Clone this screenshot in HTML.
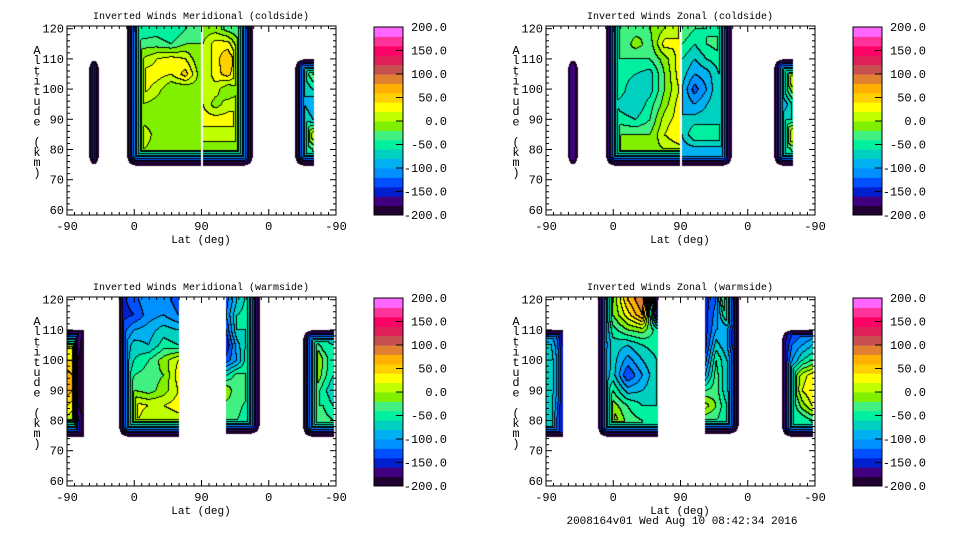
<!DOCTYPE html>
<html><head><meta charset="utf-8"><style>
html,body{margin:0;padding:0;background:#fff;width:960px;height:540px;overflow:hidden}
#wrap{position:relative;width:960px;height:540px}
canvas,svg{position:absolute;left:0;top:0}
text{font-family:"Liberation Mono",monospace;font-size:10px;fill:#000}
text.big{font-size:12px}
text.mid{font-size:11px}
</style></head><body>
<div id="wrap">
<canvas id="cv" width="960" height="540"></canvas>
<svg id="sv" width="960" height="540"></svg>
</div>
<script>
// ---- data: contour level bands ----
const levelColors=["#200030","#400080","#0020d0","#0050ff","#0090ff","#00b0f0","#00d0c0","#00f0a0","#40f080","#80f000","#c0ff00","#ffff00","#ffd000","#ffb000","#e08030","#c85050","#e0205a","#ff0066","#ff3399","#ff66ff"];
const cbTicks=[200,150,100,50,0,-50,-100,-150,-200];
const altTicks=[120,110,100,90,80,70,60];
const latTickLabels=["-90","0","90","0","-90"];
const titles=["Inverted Winds Meridional (coldside)","Inverted Winds Zonal (coldside)","Inverted Winds Meridional (warmside)","Inverted Winds Zonal (warmside)"];

// panel 0: meridional coldside
const p0StripL=[[-180,-150,-180],[-180,-150,-180],[-180,-150,-180]];
const p0MainL=[[-60,-60,-50,-60,-40,-30],[-50,-30,-30,-40,-20,-20],[-40,0,20,30,20,-20],[-30,30,30,20,50,-10],[-30,30,10,-20,-20,-10],[-30,0,-10,-20,-20,-10],[-30,-10,-10,-20,-20,-10],[-30,20,-10,-10,-20,-10],[-30,0,-10,-10,-10,-10]];
const p0MainR=[[-10,-10,-30,-40,-60],[0,30,30,-20,-60],[0,30,60,20,-40],[0,30,50,10,-40],[10,10,-20,0,-40],[20,-10,10,10,-40],[30,30,30,30,-40],[10,10,10,10,-30],[-10,-10,-10,-10,-30]];
const p0StripR=[[-150,-80,-40],[-150,-60,-20],[-150,-80,-60],[-150,-80,-100],[-150,-60,-80],[-150,-30,20],[-150,-60,-40]];
// panel 1: zonal coldside
const p1StripL=[[-185,-170,-185],[-185,-170,-185],[-185,-170,-185]];
const p1MainL=[[-40,-40,-30,-20,0,20],[-40,-40,-10,-30,30,20],[-40,-40,-40,-40,-10,30],[-40,-50,-60,-70,-20,30],[-40,-50,-80,-70,-20,20],[-40,-70,-80,-50,-10,30],[-40,-50,-60,-40,10,30],[-20,-20,-20,-20,20,40],[-10,-10,-10,-10,0,10]];
const p1MainR=[[-20,-40,-40,-50,-70],[-40,-60,-40,-30,-70],[-60,-80,-60,-50,-70],[-70,-100,-90,-60,-70],[-80,-130,-100,-60,-70],[-80,-100,-80,-60,-70],[-80,-70,-70,-70,-70],[-80,-40,-40,-40,-70],[-90,-90,-90,-90,-90]];
const p1StripR=[[-150,-60,-30],[-150,-20,40],[-150,-60,-10],[-150,-100,-60],[-150,-60,-60],[-150,-20,40],[-150,-60,-40]];
// panel 2: meridional warmside
const p2Left=[[20,10,-150,-190],[30,20,-170,-190],[40,40,-180,-190],[70,60,-180,-190],[70,60,-180,-190],[40,30,-180,-190],[10,0,-150,-190]];
const p2Main=[[-150,-130,-100,-110,-130],[-150,-140,-110,-100,-120],[-140,-100,-90,-70,-80],[-120,-70,-80,-50,-60],[-120,-60,-40,-10,20],[-120,-40,-30,-20,30],[-120,-20,-30,-10,20],[-80,30,20,20,30],[-80,30,0,0,10]];
const p2Mid=[[-130,-80,-50,-190],[-120,-60,-50,-190],[-140,-60,-60,-190],[-160,-90,-50,-190],[-130,-100,-40,-170],[-60,-30,-40,-190],[0,-40,-20,-150],[-30,-30,-50,-100],[-40,-40,-60,-100]];
const p2Right=[[-150,-120,-80,-80],[-190,-20,-50,-60],[-190,40,-20,-60],[-190,20,-30,-60],[-190,-20,-50,-80],[-190,-40,-40,-60],[-150,-20,-30,-40]];
// panel 3: zonal warmside
const p3Left=[[-100,-100,-130,-170],[-80,-80,-110,-160],[-70,-70,-100,-150],[-70,-70,-100,-150],[-70,-70,-100,-150],[-70,-70,-110,-160],[-70,-70,-120,-160]];
const p3Main=[[-190,-20,60,100,-180],[-190,-20,30,80,-150],[-160,-50,-20,-10,-50],[-150,-70,-80,-60,-50],[-130,-70,-110,-80,-60],[-120,-70,-140,-100,-60],[-110,-40,-90,-80,-60],[-80,-10,-40,-60,-60],[-40,20,-30,-40,-60]];
const p3Mid=[[-150,-120,30,-190],[-150,-110,-30,-190],[-150,-100,-100,-190],[-150,-70,-100,-190],[-130,-40,-80,-150],[-100,-30,-80,-100],[-40,-30,-80,-100],[10,-20,-60,-80],[-40,-40,-60,-80]];
const p3Right=[[-180,-150,-130,-130],[-180,-120,-100,-80],[-180,-100,-60,-40],[-190,-40,10,30],[-190,-40,20,40],[-180,-60,-10,20],[-150,-60,-60,-40]];

// blocks: lat-axis extent (0..360 along -90..0..90..0..-90), altitude extent
const panelBlocks=[
 [{u:[30,42],a:[75,110],v:p0StripL,f:[1,1,1,1]},{u:[80,178],a:[75,121],v:p0MainL,f:[1,0,1,0]},{u:[182,248],a:[75,121],v:p0MainR,f:[0,1,1,0]},{u:[305,329],a:[75,110],v:p0StripR,f:[1,0,1,1]}],
 [{u:[30,42],a:[75,110],v:p1StripL,f:[1,1,1,1]},{u:[80,178],a:[75,121],v:p1MainL,f:[1,0,1,0]},{u:[182,248],a:[75,121],v:p1MainR,f:[0,1,1,0]},{u:[305,329],a:[75,110],v:p1StripR,f:[1,0,1,1]}],
 [{u:[0,22],a:[75,110],v:p2Left,f:[0,0,1,1]},{u:[70,149],a:[75,121],v:p2Main,f:[1,0,1,0]},{u:[213,257],a:[76,121],v:p2Mid,f:[0,1,1,0]},{u:[316,356],a:[75,110],v:p2Right,f:[1,0,1,1]}],
 [{u:[0,22],a:[75,110],v:p3Left,f:[0,0,1,1]},{u:[70,149],a:[75,121],v:p3Main,f:[1,0,1,0]},{u:[213,257],a:[76,121],v:p3Mid,f:[0,1,1,0]},{u:[316,356],a:[75,110],v:p3Right,f:[1,0,1,1]}]
];
const offsets=[[0,0],[479,0],[0,271],[479,271]];

function px(u){return 67+u*269/360;}
function py(a){return 28.7+(120-a)*3.02;}
function hex(c){return [parseInt(c.substr(1,2),16),parseInt(c.substr(3,2),16),parseInt(c.substr(5,2),16)];}
const rgb=levelColors.map(hex);

const cv=document.getElementById('cv');const ctx=cv.getContext('2d');
const img=ctx.createImageData(960,540);
for(let i=0;i<img.data.length;i++)img.data[i]=255;
const PX0=67,PX1=336,PY0=26,PY1=215;
const K=12;
panelBlocks.forEach((blocks,pi)=>{
  const [ox,oy]=offsets[pi];
  const W=PX1-PX0+1,H=PY1-PY0+1;
  const band=new Int16Array(W*H).fill(-1);
  blocks.forEach(b=>{
    const x0=Math.round(px(b.u[0])),x1=Math.round(px(b.u[1]));
    const yT=Math.max(PY0,Math.round(py(b.a[1]))),yB=Math.round(py(b.a[0]));
    const rows=b.v.length,cols=b.v[0].length;
    const rTop=Math.min(b.a[1],120),rBot=80;
    for(let x=Math.max(x0,PX0);x<=Math.min(x1,PX1);x++){
      for(let y=yT;y<=Math.min(yB,PY1);y++){
        const alt=120-(y-28.7)/3.02;
        let r=(rTop-alt)/(rTop-rBot)*(rows-1);r=Math.max(0,Math.min(rows-1,r));
        let c=cols>1?(x-x0)/(x1-x0)*(cols-1):0;c=Math.max(0,Math.min(cols-1,c));
        const r0=Math.floor(r),r1=Math.min(rows-1,r0+1),c0=Math.floor(c),c1=Math.min(cols-1,c0+1);
        const fr=r-r0,fc=c-c0;
        let v=(b.v[r0][c0]*(1-fc)+b.v[r0][c1]*fc)*(1-fr)+(b.v[r1][c0]*(1-fc)+b.v[r1][c1]*fc)*fr;
        const dx=Math.min(b.f[0]?x-x0:1e9,b.f[1]?x1-x:1e9);
        const dy=Math.min(b.f[2]?yB-y:1e9,b.f[3]?y-yT:1e9);
        const R=8;let d=Math.min(dx,dy);
        if(dx<R&&dy<R){d=R-Math.hypot(R-dx,R-dy);}
        if(d<0)continue;
        v=Math.min(v,-200+K*d);
        let k=Math.floor((v+200)/20);k=Math.max(0,Math.min(19,k));
        band[(y-PY0)*W+(x-PX0)]=k;
      }
    }
  });
  for(let y=0;y<H;y++)for(let x=0;x<W;x++){
    const k=band[y*W+x];if(k<0)continue;
    let col=rgb[k];
    const rt=x+1<W?band[y*W+x+1]:-1,dn=y+1<H?band[(y+1)*W+x]:-1;
    if((rt>=0&&rt!==k)||(dn>=0&&dn!==k))col=[0,0,0];
    const i=((y+PY0+oy)*960+(x+PX0+ox))*4;
    img.data[i]=col[0];img.data[i+1]=col[1];img.data[i+2]=col[2];img.data[i+3]=255;
  }
});
ctx.putImageData(img,0,0);

// ---- SVG overlay ----
const NS="http://www.w3.org/2000/svg";const sv=document.getElementById('sv');
function mk(tag,attrs,parent){const e=document.createElementNS(NS,tag);for(const k in attrs)e.setAttribute(k,attrs[k]);(parent||sv).appendChild(e);return e;}
function cbY(v){return 215-(v+200)/400*188;}
offsets.forEach(([ox,oy],pi)=>{
  const g=mk('g',{transform:`translate(${ox},${oy})`});
  
  
  const t=mk('text',{x:201,y:19,'text-anchor':'middle'},g);t.textContent=titles[pi];
  
  
  const fr=mk('rect',{x:67,y:26,width:269,height:189,fill:'none',stroke:'#000','stroke-width':1},g);
  
  
  for(let a=60;a<=120;a+=2){
    const len=a%10===0?6:3,y=py(a);
    mk('line',{x1:67,x2:67+len,y1:y,y2:y,stroke:'#000'},g);
    mk('line',{x1:336,x2:336-len,y1:y,y2:y,stroke:'#000'},g);
  }
  altTicks.forEach(a=>{const e=mk('text',{x:64,y:py(a)+4,'text-anchor':'end','class':'big'},g);e.textContent=a;
    
    });
  for(let u=0;u<=360;u+=10){
    const len=u%90===0?6:3,x=px(u);
    mk('line',{x1:x,x2:x,y1:215,y2:215-len,stroke:'#000'},g);
    mk('line',{x1:x,x2:x,y1:26,y2:26+len,stroke:'#000'},g);
  }
  latTickLabels.forEach((l,i)=>{const e=mk('text',{x:px(i*90),y:230,'text-anchor':'middle','class':'big'},g);e.textContent=l;
    
    });
  const xl=mk('text',{x:201,y:243,'text-anchor':'middle','class':'mid'},g);xl.textContent="Lat (deg)";
  
  
  const yl=mk('text',{x:37,y:54,'text-anchor':'middle','class':'big'},g);
  
  
  "Altitude (km)".split('').forEach((ch,i)=>{const ts=mk('tspan',{x:37,y:54+i*10.2},yl);ts.textContent=ch===' '?'\u00a0':ch;});
  const cb=mk('g',{},g);
  
  
  levelColors.forEach((c,i)=>{const lo=-200+i*20;
    const r=mk('rect',{x:374,y:cbY(lo+20),width:29,height:cbY(lo)-cbY(lo+20)+0.5,fill:c},cb);
    
    });
  mk('rect',{x:374,y:27,width:29,height:188,fill:'none',stroke:'#000'},cb);
  cbTicks.forEach(v=>{mk('line',{x1:396,x2:403,y1:cbY(v),y2:cbY(v),stroke:'#000'},cb);
    const e=mk('text',{x:447,y:cbY(v)+4,'text-anchor':'end','class':'big'},cb);e.textContent=v.toFixed(1);
    
    });
});
const ft=mk('text',{x:682,y:524,'text-anchor':'middle','class':'mid'});ft.textContent="2008164v01 Wed Aug 10 08:42:34 2016";


</script>
</body></html>
